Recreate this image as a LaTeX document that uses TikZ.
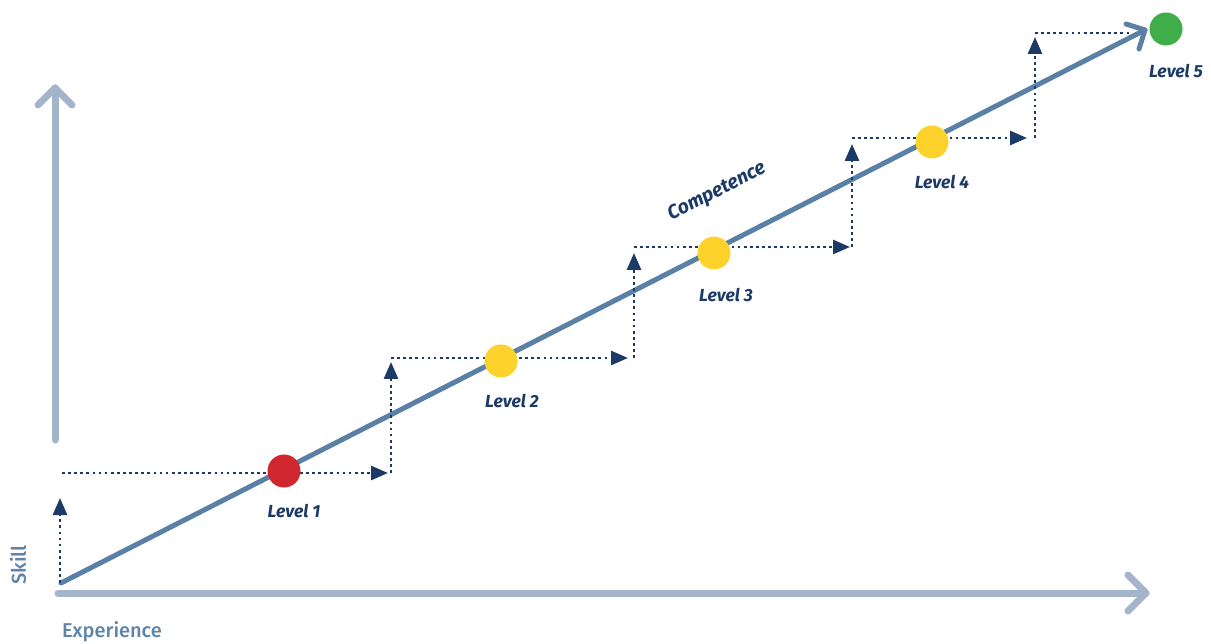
\documentclass[tikz,border=0pt]{standalone}
\usepackage{fontspec}
\setmainfont{Fira Sans}
\newfontfamily\medfont{Fira Sans Medium}
\usetikzlibrary{arrows.meta}
\definecolor{axisc}{HTML}{A3B4CB}
\definecolor{compc}{HTML}{5B80A5}
\definecolor{navy}{HTML}{1B3A66}
\definecolor{lblc}{HTML}{5F84A8}
\definecolor{redc}{HTML}{D0262D}
\definecolor{yelc}{HTML}{FDD22A}
\definecolor{grnc}{HTML}{3FAE49}
\tikzset{
  axisline/.style={draw=axisc,line width=7pt,line cap=round,line join=round},
  compline/.style={draw=compc,line width=5pt,line cap=round,line join=round},
  dotline/.style={draw=navy,line width=2.7pt,dash pattern=on 2.7pt off 3.4pt},
  dotarrow/.style={dotline,-{Triangle[length=17pt,width=14pt]}},
  lvldot/.style={circle,inner sep=0pt,minimum size=33pt,fill=#1},
  lvltext/.style={text=navy,font=\fontsize{17.5}{20}\selectfont\bfseries\itshape},
  axtext/.style={text=lblc,font=\medfont\fontsize{20}{23}\selectfont},
}
\begin{document}
\begin{tikzpicture}[x=1pt,y=-1pt]
\useasboundingbox (0,0) rectangle (1211,644);
% axes
\coordinate (ybot) at (55,440);
\coordinate (ytop) at (55,88);
\coordinate (yl) at (38,105);
\coordinate (yr) at (72,105);
\draw[axisline] (ybot) -- (ytop);
\draw[axisline] (yl) -- (ytop) -- (yr);
\coordinate (xl) at (58,593);
\coordinate (xr) at (1146,593);
\coordinate (xu) at (1128,575);
\coordinate (xd) at (1128,611);
\draw[axisline] (xl) -- (xr);
\draw[axisline] (xu) -- (xr) -- (xd);
\node[axtext,rotate=90] (skill) at (18,565) {Skill};
\node[axtext] (exp) at (112,632) {Experience};
% competence line
\coordinate (c0) at (61,583);
\coordinate (c1) at (1145,30);
\coordinate (ca1) at (1126,24);
\coordinate (ca2) at (1139,49);
\draw[compline] (c0) -- (c1);
\draw[compline] (ca1) -- (c1) -- (ca2);
\node[text=navy,font=\fontsize{19.5}{22}\selectfont\bfseries\itshape,rotate=27] (comp) at (717,192) {Competence};
% dotted staircase
\coordinate (s0) at (60,583);
\coordinate (s0t) at (60,498);
\coordinate (h1a) at (62,473);
\coordinate (h1b) at (388,473);
\coordinate (v1a) at (391,473);
\coordinate (v1b) at (391,362);
\coordinate (h2a) at (391,358);
\coordinate (h2b) at (628,358);
\coordinate (v2a) at (634,358);
\coordinate (v2b) at (634,253);
\coordinate (h3a) at (634,247);
\coordinate (h3b) at (850,247);
\coordinate (v3a) at (852,247);
\coordinate (v3b) at (852,144);
\coordinate (h4a) at (852,138);
\coordinate (h4b) at (1027,138);
\coordinate (v4a) at (1035,138);
\coordinate (v4b) at (1035,37);
\coordinate (h5a) at (1035,33);
\coordinate (h5b) at (1130,33);
\draw[dotarrow] (s0) -- (s0t);
\draw[dotarrow] (h1a) -- (h1b);
\draw[dotarrow] (v1a) -- (v1b);
\draw[dotarrow] (h2a) -- (h2b);
\draw[dotarrow] (v2a) -- (v2b);
\draw[dotarrow] (h3a) -- (h3b);
\draw[dotarrow] (v3a) -- (v3b);
\draw[dotarrow] (h4a) -- (h4b);
\draw[dotarrow] (v4a) -- (v4b);
\draw[dotline] (h5a) -- (h5b);
% level dots
\node[lvldot=redc] (l1) at (284,471) {};
\node[lvldot=yelc] (l2) at (501,361) {};
\node[lvldot=yelc] (l3) at (714,253) {};
\node[lvldot=yelc] (l4) at (932,142) {};
\node[lvldot=grnc] (l5) at (1166,29) {};
\node[lvltext] (t1) at (294,511) {Level 1};
\node[lvltext] (t2) at (512,401) {Level 2};
\node[lvltext] (t3) at (726,295) {Level 3};
\node[lvltext] (t4) at (942,182) {Level 4};
\node[lvltext] (t5) at (1176,71) {Level 5};
\end{tikzpicture}
\end{document}
